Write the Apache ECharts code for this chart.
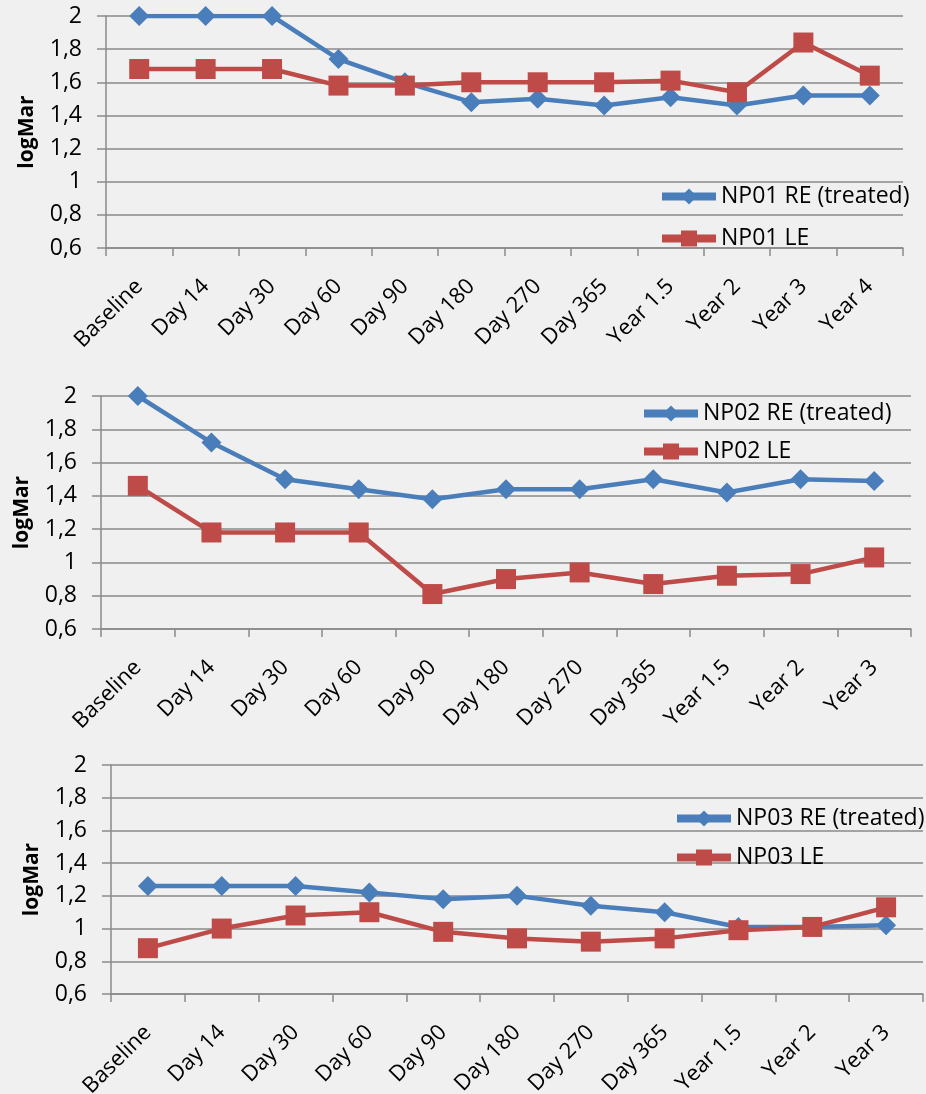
<!DOCTYPE html>
<html>
<head>
<meta charset="utf-8">
<script src="https://cdn.jsdelivr.net/npm/echarts@6/dist/echarts.min.js"></script>
<style>
  html, body { margin: 0; padding: 0; background: #f0f0f0; }
  #chart { width: 926px; height: 1094px; }
</style>
</head>
<body>
<div id="chart"></div>
<script>
// categories
const cats12 = ['Baseline', 'Day 14', 'Day 30', 'Day 60', 'Day 90', 'Day 180', 'Day 270', 'Day 365', 'Year 1.5', 'Year 2', 'Year 3', 'Year 4']
const cats11 = ['Baseline', 'Day 14', 'Day 30', 'Day 60', 'Day 90', 'Day 180', 'Day 270', 'Day 365', 'Year 1.5', 'Year 2', 'Year 3']

// logMar values
const np01Re = [2, 2, 2, 1.74, 1.6, 1.48, 1.5, 1.46, 1.51, 1.46, 1.52, 1.52]
const np01Le = [1.68, 1.68, 1.68, 1.58, 1.58, 1.6, 1.6, 1.6, 1.61, 1.54, 1.84, 1.64]
const np02Re = [2, 1.72, 1.5, 1.44, 1.38, 1.44, 1.44, 1.5, 1.42, 1.5, 1.49]
const np02Le = [1.46, 1.18, 1.18, 1.18, 0.81, 0.9, 0.94, 0.87, 0.92, 0.93, 1.03]
const np03Re = [1.26, 1.26, 1.26, 1.22, 1.18, 1.2, 1.14, 1.1, 1.01, 1.01, 1.02]
const np03Le = [0.88, 1.0, 1.08, 1.1, 0.98, 0.94, 0.92, 0.94, 0.99, 1.01, 1.13]

const yMin = 0.6
const yMax = 2
const yStep = 0.2

const FONT = 'Open Sans'
const BLUE = '#4a7ebb'
const RED = '#be4b48'
const GRAY = '#8a8a8a'

// grid boxes, kept in place even where the rotated labels go near the edge
const grids = [
  { left: 106, right: 23, top: 16, height: 232, outerBoundsMode: 'none' },
  { left: 101, right: 15, top: 396, height: 233, outerBoundsMode: 'none' },
  { left: 111, right: 3, top: 765, height: 229, outerBoundsMode: 'none' },
]
const legends = [
  { left: 658, top: 185, itemGap: 19 },
  { left: 640, top: 402, itemGap: 15 },
  { left: 673, top: 807, itemGap: 16 },
]
const panels = [
  { cats: cats12, re: np01Re, le: np01Le, name: 'NP01' },
  { cats: cats11, re: np02Re, le: np02Le, name: 'NP02' },
  { cats: cats11, re: np03Re, le: np03Le, name: 'NP03' },
]

const xAxis = panels.map((p, i) => ({
  type: 'category',
  gridIndex: i,
  data: p.cats,
  boundaryGap: true,
  axisLine: { lineStyle: { color: GRAY, width: 1.5 } },
  axisTick: { show: true, length: 8, lineStyle: { color: GRAY, width: 1.5 } },
  axisLabel: { rotate: 45, margin: 35, color: '#000', fontFamily: FONT, fontSize: 22, interval: 0 },
}))

const yAxis = panels.map((p, i) => ({
  type: 'value',
  gridIndex: i,
  min: yMin,
  max: yMax,
  interval: yStep,
  name: 'logMar',
  nameLocation: 'middle',
  nameGap: 68,
  nameTextStyle: { color: '#000', fontFamily: FONT, fontWeight: 'bold', fontSize: 21 },
  axisLine: { show: true, lineStyle: { color: GRAY, width: 1.5 } },
  axisTick: { show: true, length: 9, lineStyle: { color: GRAY, width: 1.5 } },
  axisLabel: {
    margin: 24,
    color: '#000',
    fontFamily: FONT,
    fontSize: 23,
    formatter: (v) => String(+v.toFixed(1)).replace('.', ','),
  },
  splitLine: { show: true, lineStyle: { color: GRAY, width: 1.5 } },
}))

const series = []
panels.forEach((p, i) => {
  series.push({
    name: p.name + ' RE (treated)',
    type: 'line',
    xAxisIndex: i,
    yAxisIndex: i,
    data: p.re,
    symbol: 'diamond',
    symbolSize: 20,
    lineStyle: { color: BLUE, width: 4.5 },
    itemStyle: { color: BLUE },
  })
  series.push({
    name: p.name + ' LE',
    type: 'line',
    xAxisIndex: i,
    yAxisIndex: i,
    data: p.le,
    symbol: 'rect',
    symbolSize: 20,
    lineStyle: { color: RED, width: 4.5 },
    itemStyle: { color: RED },
  })
})

const legend = panels.map((p, i) => ({
  orient: 'vertical',
  left: legends[i].left,
  top: legends[i].top,
  itemGap: legends[i].itemGap,
  itemWidth: 54,
  itemHeight: 20,
  padding: 0,
  lineStyle: { width: 8 },
  textStyle: { color: '#000', fontFamily: FONT, fontSize: 23 },
  data: [p.name + ' RE (treated)', p.name + ' LE'],
}))

const chart = echarts.init(document.getElementById('chart'))
chart.setOption({
  animation: false,
  backgroundColor: '#f0f0f0',
  grid: grids,
  xAxis: xAxis,
  yAxis: yAxis,
  legend: legend,
  series: series,
})
</script>
</body>
</html>
